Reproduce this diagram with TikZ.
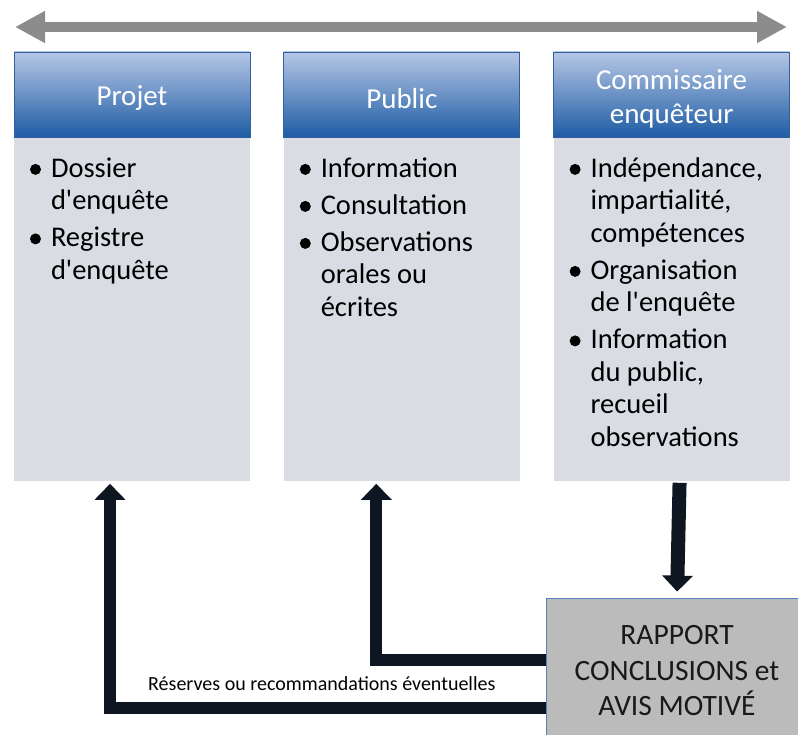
\documentclass[tikz,border=0pt]{standalone}
\usepackage{fontspec}
\newfontfamily\calib{Carlito}
\usetikzlibrary{positioning,arrows.meta}

\definecolor{bleuclair}{RGB}{182,199,230}
\definecolor{bleufonce}{RGB}{30,92,164}
\definecolor{bordbleu}{RGB}{50,96,158}
\definecolor{grisfond}{RGB}{217,220,227}
\definecolor{grisrapport}{RGB}{187,187,187}
\definecolor{bordrapport}{RGB}{84,130,190}
\definecolor{noirbleu}{RGB}{14,23,33}
\definecolor{grisfleche}{RGB}{140,140,140}
\newcommand{\grand}{\calib\fontsize{28.5}{32.5}\selectfont}
\newcommand{\puce}{\raisebox{2.5pt}{\tikz\fill (0,0) circle (5.5pt);}}

\begin{document}
\begin{tikzpicture}[x=1pt,y=1pt,
    titre/.style={draw=bordbleu,line width=0.8pt,top color=bleuclair,bottom color=bleufonce,
      minimum width=236pt,minimum height=85pt,inner sep=0pt,label={[titretexte]center:{#1}}},
    titretexte/.style={text=white,align=center,yshift=-4pt,font=\calib\fontsize{29}{34}\selectfont},
    corps/.style={fill=grisfond,minimum width=236pt,minimum height=343pt,inner sep=0pt},
    liste/.style={inner sep=0pt,anchor=base west,font=\grand},
    retour/.style={noirbleu,line width=12pt,-{Triangle[length=16pt,width=30pt]},shorten >=3pt}]
  \useasboundingbox (0,0) rectangle (798,-735);

  \draw[grisfleche,line width=10pt,{Triangle[length=30pt,width=30pt]}-{Triangle[length=30pt,width=30pt]}]
    (15,-27) -- (787,-27);

  % les trois colonnes
  \node[titre={Projet}] (projeth) at (132,-94.5) {};
  \node[titre={Public},right=33pt of projeth] (publich) {};
  \node[titre={Commissaire\\enquêteur},right=33pt of publich] (commh) {};

  \node[corps,below=0pt of projeth] (projetb) {};
  \node[corps,below=0pt of publich] (publicb) {};
  \node[corps,below=0pt of commh] (commb) {};

  \node[liste] (projett) at ([xshift=16pt,yshift=-40pt]projetb.north west) {%
    \begin{tabular}[t]{@{}p{21pt}@{}l@{}}
      \puce & Dossier\\ & d'enquête\\[4.5pt]
      \puce & Registre\\ & d'enquête
    \end{tabular}};
  \node[liste] (publict) at ([xshift=16pt,yshift=-40pt]publicb.north west) {%
    \begin{tabular}[t]{@{}p{21pt}@{}l@{}}
      \puce & Information\\[4.5pt]
      \puce & Consultation\\[4.5pt]
      \puce & Observations\\ & orales ou\\ & écrites
    \end{tabular}};
  \node[liste] (commt) at ([xshift=16pt,yshift=-40pt]commb.north west) {%
    \begin{tabular}[t]{@{}p{21pt}@{}l@{}}
      \puce & Indépendance,\\ & impartialité,\\ & compétences\\[4.5pt]
      \puce & Organisation\\ & de l'enquête\\[4.5pt]
      \puce & Information\\ & du public,\\ & recueil\\ & observations
    \end{tabular}};

  \node[draw=bordrapport,line width=0.8pt,fill=grisrapport,minimum width=262pt,minimum height=146pt,
    align=center,text=black!90,font=\calib\fontsize{29.5}{35.5}\selectfont] (rapport) at (677,-671)
    {RAPPORT\\CONCLUSIONS et\\AVIS MOTIVÉ};

  % fleches
  \draw[noirbleu,line width=14pt,-{Triangle[length=16pt,width=30pt]},shorten <=2pt,shorten >=6pt]
    ([xshift=8pt]commb.south) -- (rapport.north);
  \draw[retour] ([yshift=11pt]rapport.west) -| ([xshift=-25.5pt]publicb.south);
  \draw[retour] ([yshift=-37pt]rapport.west) -| ([xshift=-22pt]projetb.south)
    node[pos=0.25,above=11pt,xshift=-6pt,inner sep=0pt,text=black,font=\calib\fontsize{20}{24}\selectfont]
    {Réserves ou recommandations éventuelles};
\end{tikzpicture}
\end{document}
